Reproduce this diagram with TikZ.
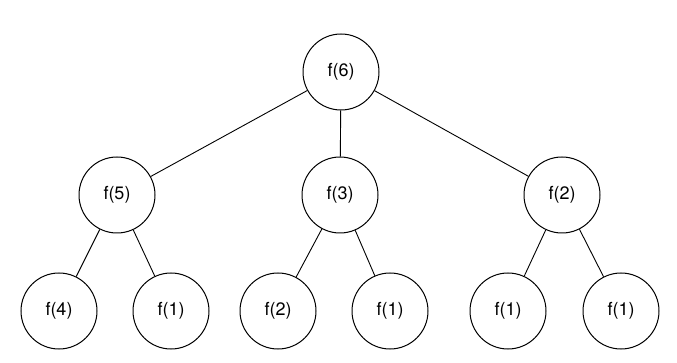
\documentclass[tikz,border=0pt]{standalone}
\usepackage{fontspec}
\setmainfont{TeX Gyre Heros}
\begin{document}
\begin{tikzpicture}[x=1pt,y=-1pt,
  fnode/.style={circle,draw,line width=1pt,minimum size=76pt,inner sep=0pt,font=\fontsize{18}{21}\selectfont},
  edge/.style={line width=0.9pt}]
\useasboundingbox (0,0) rectangle (677,363);
\node[fnode] (a) at (341,72) {f(6)};
\node[fnode] (b) at (117,195) {f(5)};
\node[fnode] (c) at (340,195) {f(3)};
\node[fnode] (d) at (562,195) {f(2)};
\node[fnode] (e) at (59,311) {f(4)};
\node[fnode] (f) at (171,311) {f(1)};
\node[fnode] (g) at (278,311) {f(2)};
\node[fnode] (h) at (390,311) {f(1)};
\node[fnode] (i) at (508,311) {f(1)};
\node[fnode] (j) at (621,311) {f(1)};
\draw[edge] (a) -- (b);
\draw[edge] (a) -- (c);
\draw[edge] (a) -- (d);
\draw[edge] (b) -- (e);
\draw[edge] (b) -- (f);
\draw[edge] (c) -- (g);
\draw[edge] (c) -- (h);
\draw[edge] (d) -- (i);
\draw[edge] (d) -- (j);
\end{tikzpicture}
\end{document}
